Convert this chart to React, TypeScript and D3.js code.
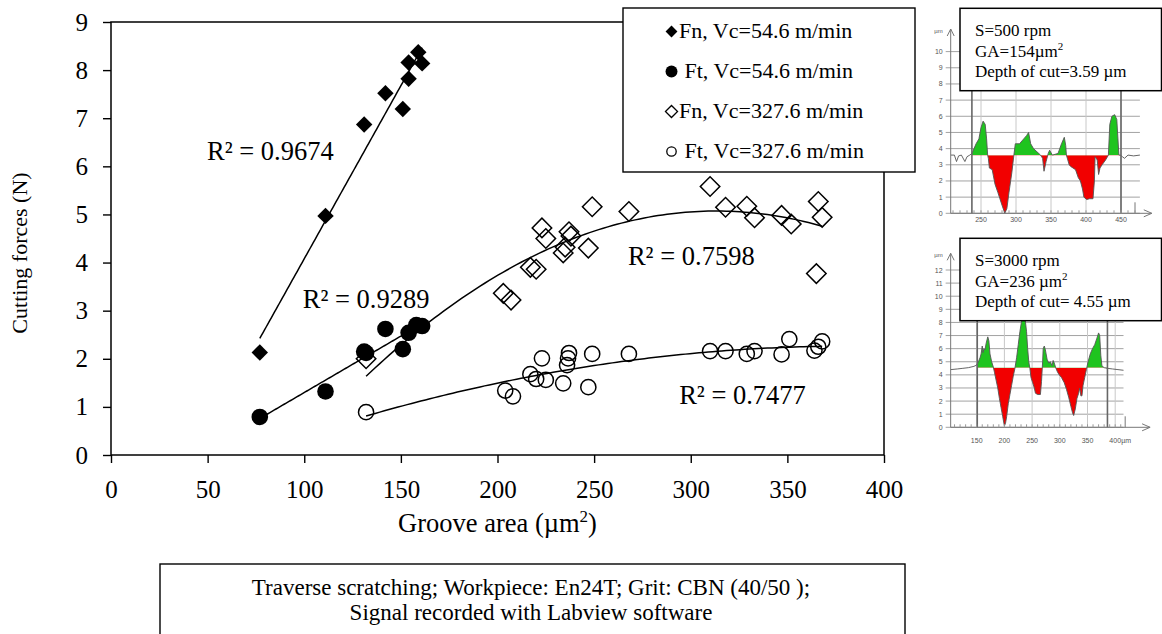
import * as d3 from "d3";
import { useEffect, useRef } from "react";

const xTicks = [0, 50, 100, 150, 200, 250, 300, 350, 400];
const yTicks = [0, 1, 2, 3, 4, 5, 6, 7, 8, 9];

// Fn, Vc=54.6 m/min (filled diamonds)
const fnSlowArea = [77, 111, 131, 142, 151, 154, 154, 159, 161];
const fnSlowForce = [2.13, 4.97, 6.87, 7.52, 7.19, 7.82, 8.16, 8.37, 8.14];
// Ft, Vc=54.6 m/min (filled circles)
const ftSlowArea = [77, 111, 131, 132, 142, 151, 154, 158, 161];
const ftSlowForce = [0.79, 1.32, 2.15, 2.12, 2.62, 2.2, 2.54, 2.7, 2.68];
// Fn, Vc=327.6 m/min (open diamonds)
const fnFastArea = [132, 203, 207, 217, 220, 223, 225, 234, 235, 237, 238, 247, 249, 268, 310, 318, 329, 333, 347, 352, 365, 366, 368];
const fnFastForce = [2.0, 3.36, 3.22, 3.9, 3.86, 4.72, 4.5, 4.2, 4.32, 4.64, 4.55, 4.3, 5.16, 5.06, 5.58, 5.15, 5.17, 4.93, 4.98, 4.8, 3.77, 5.27, 4.94];
// Ft, Vc=327.6 m/min (open circles)
const ftFastArea = [132, 204, 208, 217, 220, 223, 225, 234, 236, 236.5, 237, 247, 249, 268, 310, 318, 329, 333, 347, 351, 364, 366, 368];
const ftFastForce = [0.89, 1.34, 1.22, 1.68, 1.58, 2.01, 1.56, 1.49, 1.87, 2.01, 2.12, 1.41, 2.1, 2.1, 2.16, 2.16, 2.1, 2.16, 2.09, 2.41, 2.17, 2.25, 2.36];

const legendLabels = ["Fn, Vc=54.6 m/min", " Ft, Vc=54.6 m/min", "Fn, Vc=327.6 m/min", " Ft, Vc=327.6 m/min"];
const r2Labels = ["R² = 0.9674", "R² = 0.9289", "R² = 0.7598", "R² = 0.7477"];
const r2Anchor: [number, number][] = [[49.7, 6.13], [99.2, 3.06], [267.5, 3.95], [294, 1.07]];

const footerLines = [
  "Traverse scratching; Workpiece: En24T; Grit: CBN (40/50 );",
  "Signal recorded with Labview software",
];

// surface profiles (position µm, height µm)
const profileA: [number, number][] = [
  [207, 3.6], [212, 3.6], [215, 3.2], [218, 3.55], [222, 3.6], [227, 3.2], [230, 3.5], [234, 3.6],
  [237, 3.7], [240, 4.0], [243, 4.3], [247, 4.6], [250, 5.3], [253, 5.7], [256, 5.5], [258, 4.6],
  [259.5, 3.6], [260.5, 3.4], [262, 2.8], [266, 2.7], [270, 1.8], [274, 1.3], [277, 0.9], [280, 0.5],
  [284, 0.0], [287, 0.3], [290, 1.3], [294, 2.5], [297, 3.6], [299, 4.3], [305, 4.3], [311, 4.6],
  [315, 4.8], [318, 5.0], [321, 4.3], [325, 4.0], [330, 3.8], [335, 3.6], [338, 3.4], [340, 2.6],
  [343, 3.2], [346, 3.7], [348, 3.9], [352, 3.6], [356, 3.65], [360, 3.7], [365, 4.3], [369, 4.7],
  [371, 4.2], [372, 3.6], [374, 3.3], [376, 3.0], [378, 2.9], [385, 2.7], [389, 2.2], [392, 2.0],
  [395, 1.5], [397, 1.0], [401, 0.85], [405, 0.9], [410, 0.9], [412, 2.0], [413, 3.5], [416, 3.3],
  [418, 2.4], [420, 2.8], [423, 3.0], [428, 3.3], [432, 3.6], [434, 5.5], [437, 6.0], [441, 6.1],
  [444, 5.8], [447, 3.6], [449, 3.6], [452, 3.5], [455, 3.4], [460, 3.6], [468, 3.55], [477, 3.6],
];
const profileB: [number, number][] = [
  [103, 4.4], [115, 4.45], [125, 4.5], [135, 4.55], [145, 4.65], [150, 4.75], [153, 5.0], [156, 5.3],
  [158, 5.6], [160, 6.2], [161.5, 5.7], [163, 6.0], [165, 5.9], [167, 6.4], [170, 6.9], [172, 6.6],
  [174, 5.6], [177, 5.0], [180, 4.6], [182, 4.2], [185, 3.6], [188, 3.0], [191, 2.2], [194, 1.5],
  [197, 0.8], [200, 0.1], [202, 0.3], [204, 0.8], [207, 1.8], [210, 2.5], [213, 3.2], [216, 3.9],
  [219, 4.5], [222, 5.3], [225, 6.3], [228, 7.3], [231, 8.1], [234, 8.6], [237, 8.4], [240, 7.3],
  [242, 6.0], [244, 5.0], [246, 4.5], [248, 3.8], [251, 3.4], [254, 3.0], [256, 2.6], [260, 2.5],
  [265, 2.5], [267, 3.5], [269, 5.0], [270, 6.0], [272, 6.2], [274, 5.9], [277, 5.2], [280, 4.9],
  [283, 5.0], [286, 4.7], [288, 5.1], [290, 4.9], [293, 4.5], [296, 4.2], [299, 4.0], [303, 3.8],
  [308, 3.4], [312, 2.9], [316, 2.3], [320, 1.6], [323, 1.1], [325, 0.9], [328, 1.4], [331, 2.2],
  [334, 2.6], [336, 3.0], [338, 2.4], [340, 2.4], [342, 3.2], [345, 3.8], [348, 4.4], [351, 5.0],
  [355, 5.6], [359, 6.0], [363, 6.3], [367, 6.8], [370, 7.2], [372, 7.0], [374, 5.5], [376, 4.7],
  [380, 4.55], [386, 4.5], [395, 4.45], [405, 4.4], [415, 4.35],
];
const profileATicks = [250, 300, 350, 400, 450];
const profileBTicks = [150, 200, 250, 300, 350, 400];

const serif = "'Liberation Serif', 'Times New Roman', serif";
const sans = "'Liberation Sans', Arial, sans-serif";

// least squares polynomial (Excel style trendline)
const polyFit = (xs: number[], ys: number[], deg: number) => {
  const n = deg + 1;
  const A = Array.from({ length: n }, () => new Array(n + 1).fill(0));
  xs.forEach((xv, k) => {
    for (let i = 0; i < n; i++) {
      for (let j = 0; j < n; j++) A[i][j] += Math.pow(xv, i + j);
      A[i][n] += Math.pow(xv, i) * ys[k];
    }
  });
  for (let i = 0; i < n; i++) {
    let p = i;
    for (let r = i + 1; r < n; r++) if (Math.abs(A[r][i]) > Math.abs(A[p][i])) p = r;
    [A[i], A[p]] = [A[p], A[i]];
    for (let r = 0; r < n; r++) {
      if (r === i) continue;
      const f = A[r][i] / A[i][i];
      for (let c = i; c <= n; c++) A[r][c] -= f * A[i][c];
    }
  }
  const coef = A.map((row, i) => row[n] / row[i]);
  return (xv: number) => coef.reduce((s, c, i) => s + c * Math.pow(xv, i), 0);
};

const drawInset = (svg: any, cfg: any) => {
  const g = svg.append("g");
  const x = d3.scaleLinear().domain(cfg.xDomain).range(cfg.xRange);
  const y = d3.scaleLinear().domain([0, cfg.yMax]).range(cfg.yRange);
  const left = x(cfg.start);
  const bottom = y(0);
  const gridEnd = x(cfg.gridEnd);
  const yVals = d3.range(0, cfg.yMax + 1);

  // grid
  g.selectAll(".hg").data(yVals).enter().append("line")
    .attr("x1", left - 5).attr("x2", gridEnd)
    .attr("y1", (d: number) => y(d)).attr("y2", (d: number) => y(d))
    .attr("stroke", "#8c8c8c").attr("stroke-width", 0.8);
  g.selectAll(".vg").data(cfg.ticks).enter().append("line")
    .attr("x1", (d: number) => x(d)).attr("x2", (d: number) => x(d))
    .attr("y1", bottom).attr("y2", y(cfg.yMax))
    .attr("stroke", "#c8c8c8").attr("stroke-width", 1);

  // filled areas between profile and reference line
  const id = cfg.id;
  const defs = g.append("defs");
  defs.append("clipPath").attr("id", id + "up").append("rect")
    .attr("x", x(cfg.bounds[0])).attr("width", x(cfg.bounds[1]) - x(cfg.bounds[0]))
    .attr("y", 0).attr("height", y(cfg.base));
  defs.append("clipPath").attr("id", id + "dn").append("rect")
    .attr("x", x(cfg.bounds[0])).attr("width", x(cfg.bounds[1]) - x(cfg.bounds[0]))
    .attr("y", y(cfg.base)).attr("height", 400);
  const area = d3.area<[number, number]>()
    .x((d) => x(d[0])).y0(y(cfg.base)).y1((d) => y(d[1]));
  g.append("path").datum(cfg.profile).attr("d", area)
    .attr("fill", "#1fc41f").attr("clip-path", `url(#${id}up)`);
  g.append("path").datum(cfg.profile).attr("d", area)
    .attr("fill", "#f20000").attr("clip-path", `url(#${id}dn)`);
  const line = d3.line<[number, number]>().x((d) => x(d[0])).y((d) => y(d[1]));
  g.append("path").datum(cfg.profile).attr("d", line)
    .attr("fill", "none").attr("stroke", "#555").attr("stroke-width", 0.9);

  // boundary lines
  g.selectAll(".bd").data(cfg.bounds).enter().append("line")
    .attr("x1", (d: number) => x(d)).attr("x2", (d: number) => x(d))
    .attr("y1", bottom).attr("y2", y(cfg.yMax))
    .attr("stroke", "#666").attr("stroke-width", 1.6);

  // axes with arrows
  const ax = "#777";
  g.append("line").attr("x1", left).attr("x2", left).attr("y1", bottom).attr("y2", cfg.arrowTop)
    .attr("stroke", ax).attr("stroke-width", 1);
  g.append("path").attr("d", `M${left - 3.5},${cfg.arrowTop + 7}L${left},${cfg.arrowTop}L${left + 3.5},${cfg.arrowTop + 7}`)
    .attr("fill", "none").attr("stroke", ax);
  const xEnd = x(cfg.axisEnd);
  g.append("line").attr("x1", left).attr("x2", xEnd).attr("y1", bottom).attr("y2", bottom)
    .attr("stroke", ax).attr("stroke-width", 1);
  g.append("path").attr("d", `M${xEnd - 8},${bottom - 3.5}L${xEnd},${bottom}L${xEnd - 8},${bottom + 3.5}`)
    .attr("fill", "none").attr("stroke", ax);
  g.append("line").attr("x1", x(cfg.mark)).attr("x2", x(cfg.mark))
    .attr("y1", bottom).attr("y2", bottom - 11).attr("stroke", ax);
  g.selectAll(".mt").data(d3.range(Math.ceil(cfg.start / 10) * 10, cfg.gridEnd, 10)).enter().append("line")
    .attr("x1", (d: number) => x(d)).attr("x2", (d: number) => x(d))
    .attr("y1", bottom).attr("y2", bottom - 3).attr("stroke", "#999");

  // labels
  const lab = g.append("g").attr("font-family", sans).attr("font-size", 7).attr("fill", "#555");
  lab.selectAll(".yl").data(yVals).enter().append("text")
    .attr("x", left - 8).attr("y", (d: number) => y(d) + 2.5)
    .attr("text-anchor", "end").text((d: number) => d);
  lab.append("text").attr("x", left - 8).attr("y", cfg.arrowTop + 4)
    .attr("text-anchor", "end").attr("font-size", 6).text("µm");
  lab.selectAll(".xl").data(cfg.ticks).enter().append("text")
    .attr("x", (d: number) => x(d)).attr("y", bottom + cfg.labelDy)
    .attr("text-anchor", "middle").text((d: number) => d);
  if (cfg.unitLast) {
    lab.append("text").attr("x", x(cfg.ticks[cfg.ticks.length - 1]) + 6).attr("y", bottom + cfg.labelDy)
      .text("µm");
  }

  // info box
  const b = cfg.box;
  g.append("rect").attr("x", b.x).attr("y", b.y).attr("width", b.w).attr("height", b.h)
    .attr("fill", "#fff").attr("stroke", "#000").attr("stroke-width", 1.5);
  const t = g.append("g").attr("font-family", serif).attr("font-size", 17);
  t.append("text").attr("x", b.x + 15).attr("y", b.y + 27.5).text(cfg.lines[0]);
  const ga = t.append("text").attr("x", b.x + 15).attr("y", b.y + 48.5).text(cfg.lines[1]);
  ga.append("tspan").attr("font-size", 11).attr("dy", -7).text("2");
  t.append("text").attr("x", b.x + 15).attr("y", b.y + 69).text(cfg.lines[2]);
};

const App = () => {
  const ref = useRef<SVGSVGElement>(null);

  useEffect(() => {
    const svg = d3.select(ref.current);
    svg.selectAll("*").remove();

    const x = d3.scaleLinear().domain([0, 400]).range([111, 884]);
    const y = d3.scaleLinear().domain([0, 9]).range([455, 22]);

    // plot frame
    svg.append("rect").attr("x", 111).attr("y", 22).attr("width", 773).attr("height", 433)
      .attr("fill", "#fff").attr("stroke", "#000").attr("stroke-width", 1.5);

    const gx = svg.append("g").attr("transform", "translate(0,455)")
      .call(d3.axisBottom(x).tickValues(xTicks).tickSize(8).tickPadding(17));
    gx.select(".domain").remove();
    gx.attr("font-size", 25).attr("font-family", serif);
    gx.selectAll("line").attr("stroke-width", 1.4);

    const gy = svg.append("g").attr("transform", "translate(111,0)")
      .call(d3.axisLeft(y).tickValues(yTicks).tickSize(8).tickPadding(15));
    gy.select(".domain").remove();
    gy.attr("font-size", 25).attr("font-family", serif);
    gy.selectAll("line").attr("stroke-width", 1.4);

    // axis titles
    const xt = svg.append("text").attr("x", 497.5).attr("y", 532).attr("text-anchor", "middle")
      .attr("font-family", serif).attr("font-size", 26.5).text("Groove area (µm");
    xt.append("tspan").attr("font-size", 17).attr("dy", -10).text("2");
    xt.append("tspan").attr("dy", 10).text(")");
    svg.append("text").attr("transform", "translate(27,253) rotate(-90)").attr("text-anchor", "middle")
      .attr("font-family", serif).attr("font-size", 22).text("Cutting forces (N)");

    const series = [
      { xs: fnSlowArea, ys: fnSlowForce, shape: "diamond", filled: true, deg: 1 },
      { xs: ftSlowArea, ys: ftSlowForce, shape: "circle", filled: true, deg: 1 },
      { xs: fnFastArea, ys: fnFastForce, shape: "diamond", filled: false, deg: 2 },
      { xs: ftFastArea, ys: ftFastForce, shape: "circle", filled: false, deg: 2 },
    ];

    const markerPath = (shape: string, filled: boolean, scale = 1) =>
      shape === "diamond"
        ? d3.symbol(d3.symbolSquare, (filled ? 135 : 190) * scale * scale)()
        : d3.symbol(d3.symbolCircle, Math.PI * Math.pow(filled ? 8.3 : 7.6, 2) * scale * scale)();

    series.forEach((s) => {
      svg.append("g").selectAll("path").data(s.xs).enter().append("path")
        .attr("d", markerPath(s.shape, s.filled))
        .attr("transform", (d, i) => `translate(${x(d)},${y(s.ys[i])})${s.shape === "diamond" ? " rotate(45)" : ""}`)
        .attr("fill", s.filled ? "#000" : "none")
        .attr("stroke", "#000").attr("stroke-width", s.filled ? 0 : 1.5);
    });

    // trendlines
    series.forEach((s) => {
      const f = polyFit(s.xs, s.ys, s.deg);
      const [lo, hi] = d3.extent(s.xs) as [number, number];
      const pts = d3.range(0, 101).map((k) => lo + ((hi - lo) * k) / 100);
      svg.append("path").datum(pts)
        .attr("d", d3.line<number>().x((d) => x(d)).y((d) => y(f(d))))
        .attr("fill", "none").attr("stroke", "#000").attr("stroke-width", 1.5);
    });

    svg.append("g").attr("font-family", serif).attr("font-size", 26.5)
      .selectAll("text").data(r2Labels).enter().append("text")
      .attr("x", (d, i) => x(r2Anchor[i][0])).attr("y", (d, i) => y(r2Anchor[i][1]))
      .text((d) => d);

    // legend
    const lg = svg.append("g");
    lg.append("rect").attr("x", 623).attr("y", 8).attr("width", 292).attr("height", 164)
      .attr("fill", "#fff").attr("stroke", "#000").attr("stroke-width", 1.4);
    series.forEach((s, i) => {
      const cy = 31.5 + i * 40;
      lg.append("path").attr("d", markerPath(s.shape, s.filled, s.filled ? 0.72 : 0.62))
        .attr("transform", `translate(671.5,${cy})${s.shape === "diamond" ? " rotate(45)" : ""}`)
        .attr("fill", s.filled ? "#000" : "none").attr("stroke", "#000")
        .attr("stroke-width", s.filled ? 0 : 1.3);
      lg.append("text").attr("x", 679).attr("y", cy + 6.5).attr("font-family", serif)
        .attr("font-size", 22).attr("xml:space", "preserve").style("white-space", "pre")
        .text(legendLabels[i]);
    });

    // footer note
    svg.append("rect").attr("x", 160).attr("y", 564).attr("width", 745).attr("height", 90)
      .attr("fill", "#fff").attr("stroke", "#000").attr("stroke-width", 1.4);
    svg.append("g").attr("font-family", serif).attr("font-size", 23).attr("text-anchor", "middle")
      .selectAll("text").data(footerLines).enter().append("text")
      .attr("x", 531).attr("y", (d, i) => 595 + i * 25).text((d) => d);

    drawInset(svg, {
      id: "pa", xDomain: [250, 450], xRange: [981, 1121], yMax: 10, yRange: [213.3, 51.6],
      start: 206.7, gridEnd: 477, axisEnd: 494, arrowTop: 29, bounds: [237, 450], base: 3.59,
      profile: profileA, ticks: profileATicks, mark: 470, labelDy: 9, unitLast: false,
      box: { x: 960, y: 8.3, w: 201.5, h: 82.4 },
      lines: ["S=500 rpm", "GA=154µm", "Depth of cut=3.59 µm"],
    });
    drawInset(svg, {
      id: "pb", xDomain: [150, 400], xRange: [976.7, 1115.2], yMax: 12, yRange: [427.3, 270],
      start: 103, gridEnd: 415, axisEnd: 463, arrowTop: 253.3, bounds: [151, 386], base: 4.55,
      profile: profileB, ticks: profileBTicks, mark: 418, labelDy: 16, unitLast: true,
      box: { x: 960, y: 238.3, w: 201.5, h: 82.4 },
      lines: ["S=3000 rpm", "GA=236 µm", "Depth of cut= 4.55 µm"],
    });
  }, []);

  return (
    <svg ref={ref} width={1162} height={634}
      style={{ position: "absolute", left: 0, top: 0, background: "#fff" }} />
  );
};

export default App;
